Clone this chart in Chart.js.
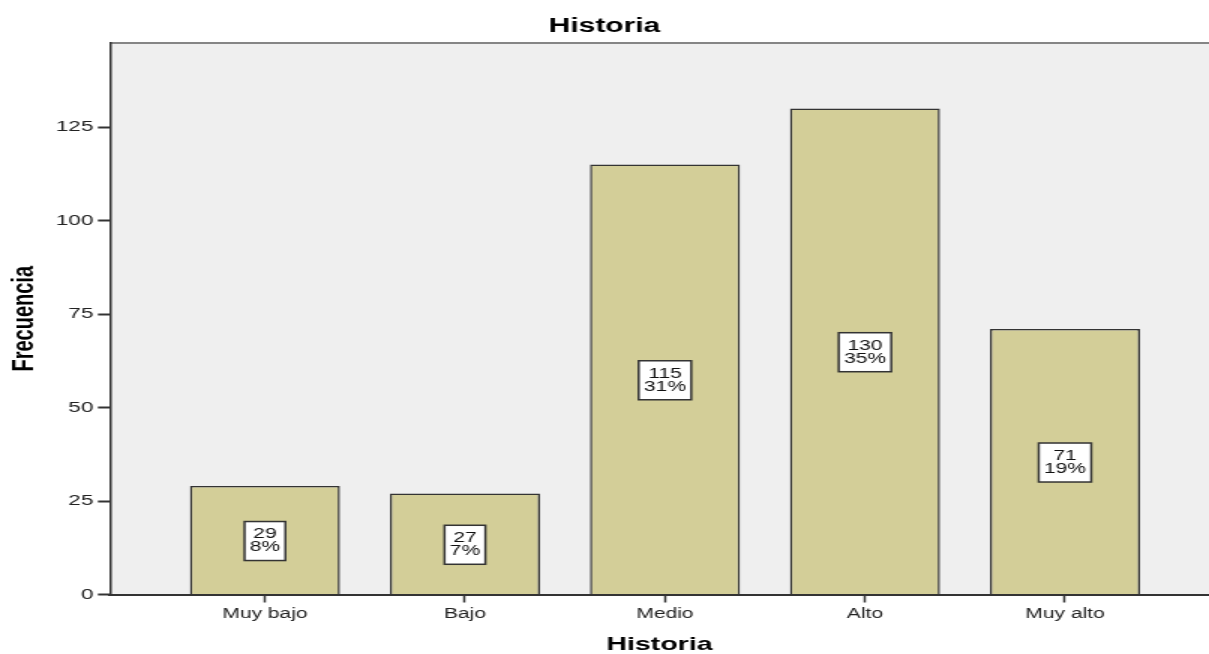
<!DOCTYPE html>
<html>
<head>
<meta charset="utf-8">
<script src="https://cdn.jsdelivr.net/npm/chart.js@4.4.1/dist/chart.umd.min.js"></script>
<style>
html,body{margin:0;padding:0;background:#fff;overflow:hidden;}
#wrap{width:806px;height:654px;transform:scaleX(1.5);transform-origin:0 0;}
canvas{display:block;}
</style>
</head>
<body>
<div id="wrap"><canvas id="c" width="806" height="654"></canvas></div>
<script>
// ---- data ----
const chartTitle = 'Historia';
const xAxisTitle = 'Historia';
const yAxisTitle = 'Frecuencia';
const categories = ['Muy bajo', 'Bajo', 'Medio', 'Alto', 'Muy alto'];
const frequencies = [29, 27, 115, 130, 71];
const percentLabels = ['8%', '7%', '31%', '35%', '19%'];
const yTicks = [0, 25, 50, 75, 100, 125];

const FONT = '"Liberation Sans", Arial, sans-serif';
Chart.defaults.font.family = FONT;

const plotBg = {
  id: 'plotBg',
  beforeDraw(chart) {
    const { ctx, chartArea: a } = chart;
    ctx.save();
    ctx.fillStyle = '#EFEFEF';
    ctx.fillRect(a.left, a.top, a.right - a.left, a.bottom - a.top);
    ctx.strokeStyle = '#858585';
    ctx.lineWidth = 2;
    ctx.beginPath();
    ctx.moveTo(a.left, a.top);
    ctx.lineTo(a.right, a.top);
    ctx.stroke();
    ctx.restore();
  }
};

const boxLabels = {
  id: 'boxLabels',
  afterDatasetsDraw(chart) {
    const meta = chart.getDatasetMeta(0);
    const ctx = chart.ctx;
    ctx.save();
    ctx.font = '14px ' + FONT;
    ctx.textAlign = 'center';
    ctx.textBaseline = 'middle';
    meta.data.forEach((bar, i) => {
      const lines = [String(frequencies[i]), percentLabels[i]];
      const w = Math.max(...lines.map(t => ctx.measureText(t).width)) + 7;
      const h = 39;
      const cx = bar.x;
      const cy = (bar.y + bar.base) / 2 + 1;
      ctx.fillStyle = '#ffffff';
      ctx.fillRect(cx - w / 2, cy - h / 2, w, h);
      ctx.strokeStyle = '#333333';
      ctx.lineWidth = 1.5;
      ctx.strokeRect(cx - w / 2, cy - h / 2, w, h);
      ctx.fillStyle = '#111111';
      ctx.fillText(lines[0], cx, cy - 6.5);
      ctx.fillText(lines[1], cx, cy + 6.5);
    });
    ctx.restore();
  }
};

new Chart(document.getElementById('c'), {
  type: 'bar',
  data: {
    datasets: [{
      data: categories.map((c, i) => ({ x: i, y: frequencies[i] })),
      backgroundColor: '#D3CE98',
      borderColor: '#333333',
      borderWidth: 1.5,
      barPercentage: 0.75,
      categoryPercentage: 1
    }]
  },
  options: {
    responsive: false,
    animation: false,
    layout: { padding: 0 },
    plugins: {
      legend: { display: false },
      tooltip: { enabled: false },
      title: {
        display: true,
        text: chartTitle,
        color: '#000',
        font: { size: 20, weight: 'bold' },
        padding: { top: 14, bottom: 5 }
      }
    },
    scales: {
      x: {
        type: 'linear',
        offset: false,
        min: -0.775,
        max: 4.72,
        afterFit(s) { s.height = 59.5; },
        afterBuildTicks(s) { s.ticks = categories.map((c, i) => ({ value: i })); },
        ticks: {
          callback: (v) => categories[v],
          color: '#222',
          font: { size: 14 },
          padding: 3,
          maxRotation: 0,
          autoSkip: false
        },
        grid: { offset: false, drawOnChartArea: false, drawTicks: true, tickLength: 8, tickColor: '#333', tickWidth: 1.5 },
        border: { display: true, color: '#333', width: 2 },
        title: {
          display: true,
          text: xAxisTitle,
          color: '#000',
          font: { size: 19, weight: 'bold', lineHeight: 1 },
          padding: { top: 0, bottom: 0 }
        }
      },
      y: {
        min: 0,
        max: 147.5,
        afterFit(s) { s.width = 73.3; },
        afterBuildTicks(s) { s.ticks = yTicks.map(v => ({ value: v })); },
        ticks: { color: '#222', font: { size: 15 }, padding: 3 },
        grid: { drawOnChartArea: false, drawTicks: true, tickLength: 8, tickColor: '#333', tickWidth: 2 },
        border: { display: true, color: '#333', width: 1.5 },
        title: {
          display: true,
          text: yAxisTitle,
          color: '#000',
          font: { size: 20, weight: 'bold' },
          padding: { top: 4, bottom: 0 }
        }
      }
    }
  },
  plugins: [plotBg, boxLabels]
});
</script>
</body>
</html>
